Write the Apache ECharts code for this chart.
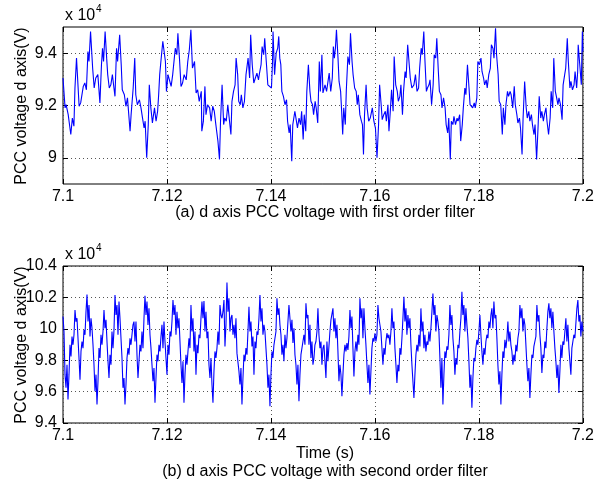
<!DOCTYPE html>
<html>
<head>
<meta charset="utf-8">
<script src="https://cdn.jsdelivr.net/npm/echarts@6/dist/echarts.min.js"></script>
<style>html,body{margin:0;padding:0;background:#fff}#c{width:597px;height:485px}</style>
</head>
<body>
<div id="c"></div>
<script>
// ---- data (voltage in units of 10^4 V, time in s) ----
const timeTicks = [7.1, 7.12, 7.14, 7.16, 7.18, 7.2];
const yTicksA = [9, 9.2, 9.4];
const yTicksB = [9.4, 9.6, 9.8, 10, 10.2, 10.4];

// (a) first order filter: [time, voltage]
const pccFirstOrder = [
[7.1000,9.305],[7.1004,9.191],[7.1006,9.203],[7.1010,9.165],[7.1015,9.089],[7.1018,9.152],[7.1021,9.121],[7.1023,9.267],[7.1026,9.381],[7.1031,9.197],
[7.1034,9.210],[7.1039,9.273],[7.1042,9.286],[7.1045,9.260],[7.1048,9.406],[7.1050,9.368],[7.1053,9.483],[7.1057,9.343],[7.1060,9.267],[7.1063,9.305],
[7.1067,9.318],[7.1069,9.324],[7.1071,9.210],[7.1074,9.356],[7.1076,9.419],[7.1078,9.368],[7.1081,9.483],[7.1084,9.381],[7.1086,9.318],[7.1089,9.267],
[7.1092,9.279],[7.1095,9.318],[7.1098,9.267],[7.1100,9.235],[7.1103,9.419],[7.1105,9.368],[7.1109,9.470],[7.1112,9.356],[7.1114,9.260],[7.1118,9.241],
[7.1121,9.197],[7.1124,9.229],[7.1126,9.235],[7.1129,9.102],[7.1131,9.165],[7.1135,9.267],[7.1138,9.381],[7.1140,9.241],[7.1143,9.203],[7.1147,9.222],
[7.1150,9.191],[7.1153,9.152],[7.1156,9.114],[7.1158,9.140],[7.1161,9.000],[7.1164,9.127],[7.1166,9.279],[7.1169,9.191],[7.1172,9.133],[7.1176,9.191],
[7.1179,9.140],[7.1182,9.178],[7.1184,9.241],[7.1186,9.318],[7.1188,9.362],[7.1192,9.445],[7.1194,9.451],[7.1197,9.368],[7.1199,9.254],[7.1202,9.318],
[7.1204,9.311],[7.1208,9.273],[7.1211,9.318],[7.1214,9.318],[7.1216,9.419],[7.1219,9.394],[7.1221,9.476],[7.1224,9.381],[7.1227,9.273],[7.1230,9.286],
[7.1233,9.318],[7.1237,9.298],[7.1240,9.368],[7.1243,9.413],[7.1246,9.489],[7.1249,9.343],[7.1253,9.368],[7.1256,9.248],[7.1259,9.260],[7.1262,9.216],
[7.1266,9.254],[7.1267,9.102],[7.1270,9.140],[7.1273,9.273],[7.1275,9.165],[7.1278,9.203],[7.1282,9.191],[7.1285,9.140],[7.1288,9.197],[7.1291,9.178],
[7.1294,9.127],[7.1298,9.064],[7.1301,8.994],[7.1303,9.140],[7.1306,9.279],[7.1309,9.127],[7.1311,9.152],[7.1314,9.140],[7.1317,9.203],[7.1320,9.210],
[7.1323,9.089],[7.1325,9.216],[7.1328,9.254],[7.1331,9.279],[7.1333,9.381],[7.1336,9.318],[7.1338,9.216],[7.1341,9.203],[7.1343,9.241],[7.1346,9.191],
[7.1349,9.216],[7.1352,9.318],[7.1356,9.381],[7.1359,9.305],[7.1361,9.470],[7.1364,9.356],[7.1367,9.286],[7.1370,9.305],[7.1373,9.324],[7.1376,9.298],
[7.1378,9.324],[7.1381,9.356],[7.1383,9.425],[7.1386,9.394],[7.1388,9.457],[7.1391,9.368],[7.1394,9.279],[7.1397,9.286],[7.1401,9.267],[7.1403,9.368],
[7.1404,9.483],[7.1407,9.318],[7.1410,9.400],[7.1413,9.419],[7.1415,9.464],[7.1417,9.381],[7.1419,9.356],[7.1421,9.254],[7.1424,9.235],[7.1427,9.203],
[7.1430,9.222],[7.1432,9.140],[7.1435,9.095],[7.1437,9.127],[7.1440,8.987],[7.1442,9.127],[7.1446,9.178],[7.1449,9.140],[7.1451,9.114],[7.1454,9.152],
[7.1457,9.127],[7.1459,9.178],[7.1462,9.070],[7.1464,9.165],[7.1467,9.102],[7.1469,9.254],[7.1472,9.356],[7.1475,9.254],[7.1477,9.216],[7.1480,9.203],
[7.1482,9.165],[7.1485,9.216],[7.1487,9.191],[7.1490,9.133],[7.1493,9.368],[7.1495,9.254],[7.1498,9.394],[7.1500,9.248],[7.1504,9.279],[7.1507,9.254],
[7.1512,9.324],[7.1515,9.254],[7.1518,9.305],[7.1520,9.425],[7.1522,9.381],[7.1524,9.419],[7.1526,9.489],[7.1529,9.381],[7.1531,9.292],[7.1534,9.254],
[7.1536,9.178],[7.1538,9.089],[7.1540,9.191],[7.1543,9.127],[7.1545,9.260],[7.1548,9.387],[7.1551,9.356],[7.1553,9.476],[7.1556,9.368],[7.1558,9.318],
[7.1561,9.267],[7.1564,9.254],[7.1566,9.203],[7.1568,9.241],[7.1571,9.165],[7.1574,9.140],[7.1576,9.127],[7.1578,9.013],[7.1580,9.165],[7.1583,9.279],
[7.1585,9.191],[7.1588,9.140],[7.1591,9.152],[7.1595,9.191],[7.1598,9.140],[7.1601,9.114],[7.1604,9.000],[7.1607,9.127],[7.1609,9.279],[7.1612,9.203],
[7.1614,9.146],[7.1617,9.165],[7.1620,9.178],[7.1622,9.140],[7.1625,9.203],[7.1627,9.102],[7.1630,9.191],[7.1632,9.260],[7.1635,9.178],[7.1637,9.387],
[7.1640,9.279],[7.1643,9.254],[7.1645,9.216],[7.1648,9.235],[7.1650,9.279],[7.1653,9.165],[7.1655,9.254],[7.1658,9.330],[7.1660,9.305],[7.1663,9.432],
[7.1666,9.356],[7.1668,9.305],[7.1671,9.267],[7.1675,9.279],[7.1678,9.318],[7.1681,9.254],[7.1684,9.267],[7.1686,9.343],[7.1689,9.419],[7.1691,9.394],
[7.1694,9.483],[7.1696,9.381],[7.1699,9.254],[7.1701,9.267],[7.1704,9.279],[7.1706,9.298],[7.1709,9.203],[7.1712,9.279],[7.1714,9.394],[7.1717,9.381],
[7.1719,9.457],[7.1722,9.330],[7.1724,9.254],[7.1727,9.241],[7.1729,9.191],[7.1732,9.229],[7.1735,9.191],[7.1737,9.127],[7.1740,9.095],[7.1742,9.152],
[7.1745,8.994],[7.1747,9.140],[7.1750,9.127],[7.1752,9.159],[7.1755,9.127],[7.1758,9.152],[7.1760,9.140],[7.1763,9.165],[7.1765,9.064],[7.1768,9.127],
[7.1770,9.191],[7.1773,9.267],[7.1775,9.241],[7.1778,9.356],[7.1781,9.267],[7.1783,9.203],[7.1786,9.210],[7.1788,9.191],[7.1791,9.210],[7.1793,9.191],
[7.1796,9.229],[7.1798,9.368],[7.1801,9.356],[7.1804,9.381],[7.1806,9.330],[7.1809,9.305],[7.1811,9.279],[7.1814,9.298],[7.1816,9.267],[7.1819,9.318],
[7.1822,9.343],[7.1824,9.432],[7.1827,9.419],[7.1829,9.381],[7.1832,9.495],[7.1834,9.394],[7.1837,9.318],[7.1839,9.216],[7.1842,9.203],[7.1845,9.089],
[7.1847,9.191],[7.1850,9.127],[7.1852,9.203],[7.1855,9.254],[7.1857,9.235],[7.1860,9.254],[7.1862,9.241],[7.1865,9.191],[7.1868,9.273],[7.1870,9.203],
[7.1873,9.165],[7.1875,9.133],[7.1878,9.152],[7.1880,9.114],[7.1883,9.013],[7.1885,9.152],[7.1888,9.292],[7.1891,9.191],[7.1893,9.152],[7.1896,9.178],
[7.1898,9.140],[7.1901,9.165],[7.1903,9.127],[7.1906,9.089],[7.1908,9.127],[7.1911,8.994],[7.1914,9.127],[7.1916,9.235],[7.1919,9.152],[7.1921,9.178],
[7.1924,9.140],[7.1926,9.165],[7.1929,9.191],[7.1931,9.140],[7.1934,9.089],[7.1937,9.152],[7.1939,9.254],[7.1942,9.191],[7.1944,9.381],[7.1947,9.254],
[7.1949,9.235],[7.1952,9.203],[7.1954,9.229],[7.1957,9.203],[7.1960,9.146],[7.1962,9.279],[7.1965,9.318],[7.1967,9.343],[7.1970,9.457],[7.1972,9.368],
[7.1975,9.267],[7.1977,9.292],[7.1980,9.260],[7.1983,9.279],[7.1985,9.330],[7.1988,9.267],[7.1990,9.330],[7.1991,9.432],[7.1994,9.356],[7.1997,9.279],
[7.1999,9.483],[7.2000,9.406]
];

// (b) second order filter: uniformly sampled voltages
const sampleStart = 7.1;
const sampleStep = 0.1 / 520;
const pccSecondOrder = [
10.078,9.983,9.708,9.624,9.771,9.550,9.708,9.898,9.824,9.951,9.898,9.962,10.120,10.046,10.067,9.940,9.814,9.676,9.856,9.919,
9.877,9.993,9.962,10.109,10.219,10.046,10.152,9.951,10.067,10.004,9.898,9.771,9.602,9.708,9.518,9.666,9.877,9.814,9.962,9.898,
9.983,10.120,10.004,10.057,9.919,9.793,9.687,9.835,9.771,9.983,9.877,9.993,10.215,10.088,10.152,9.962,10.173,10.067,9.940,9.814,
9.624,9.687,9.518,9.645,9.814,9.877,9.835,9.940,9.898,9.962,10.025,10.046,9.919,10.046,9.835,9.687,9.793,9.898,9.856,9.983,
9.877,10.067,10.211,10.088,10.173,10.025,10.130,9.962,9.877,9.771,9.666,9.750,9.529,9.687,9.835,9.793,9.898,9.856,9.951,10.025,
9.877,10.046,9.919,9.814,9.708,9.898,9.835,9.983,9.951,10.046,10.183,10.088,10.152,9.962,10.109,10.004,10.067,9.919,9.771,9.655,
9.793,9.529,9.708,9.835,9.771,9.856,9.940,9.877,10.152,9.983,10.067,9.856,9.983,9.708,9.898,9.845,9.962,9.940,10.067,10.173,
10.067,10.177,9.983,10.109,9.940,9.983,9.771,9.687,9.814,9.645,9.529,9.729,9.856,9.814,9.877,9.983,9.898,10.152,10.088,10.067,
10.109,10.183,9.888,10.025,10.295,10.109,10.194,9.983,10.067,10.088,9.962,10.025,9.940,10.067,9.845,9.856,9.729,9.645,9.750,9.518,
9.687,9.835,9.793,9.877,9.835,9.983,10.141,9.983,10.046,9.888,9.951,9.708,9.919,9.877,9.983,9.962,10.067,10.215,10.046,10.130,
9.962,10.025,9.983,9.877,9.771,9.624,9.708,9.507,9.708,9.856,9.814,9.898,9.940,9.983,10.194,10.088,10.130,10.025,9.962,9.835,
9.898,9.793,9.962,9.877,9.940,10.046,10.152,10.067,9.983,10.057,9.909,10.004,9.835,9.771,9.645,9.771,9.539,9.708,9.835,9.877,
9.919,9.962,9.898,10.162,10.067,10.088,9.898,10.025,9.814,9.919,9.771,9.814,9.898,9.919,9.983,10.130,9.962,9.877,9.919,9.771,
9.877,9.898,9.793,9.687,9.919,9.793,
9.888,9.983,10.057,10.067,10.130,9.983,10.067,9.940,10.025,9.856,9.666,9.771,9.708,9.571,9.708,9.835,9.898,9.856,9.909,9.866,
9.951,10.120,10.004,10.078,9.877,9.697,9.856,9.919,9.856,9.962,9.898,10.194,10.067,10.130,9.940,10.130,10.004,9.898,9.771,9.655,
9.771,9.581,9.729,9.877,9.940,9.919,9.972,9.919,9.962,10.152,10.067,10.078,9.983,9.877,9.771,9.877,9.835,9.919,9.972,9.940,
9.962,9.898,9.983,10.130,10.004,10.046,9.877,9.771,9.655,9.771,9.729,9.877,9.835,9.940,10.067,10.204,10.046,10.130,9.962,10.088,
10.004,10.067,9.898,9.771,9.666,9.560,9.708,9.835,9.898,9.856,9.962,9.888,10.130,9.983,10.046,9.877,9.962,9.856,9.919,9.898,
9.983,9.919,10.004,10.109,10.225,10.088,10.152,9.983,10.088,10.046,9.983,9.814,9.624,9.814,9.518,9.708,9.856,9.814,9.888,9.866,
9.962,10.152,10.025,10.088,9.940,9.856,9.708,9.814,9.771,9.898,9.877,9.983,10.067,10.236,10.088,10.152,9.983,10.130,10.025,9.940,
9.793,9.624,9.708,9.497,9.687,9.814,9.793,9.877,9.930,9.898,9.983,10.088,9.962,9.856,9.771,9.877,9.835,9.919,9.962,9.940,
10.046,10.004,10.088,10.130,10.004,10.173,10.067,10.088,9.940,9.771,9.645,9.729,9.518,9.708,9.856,9.814,9.930,9.877,9.940,10.046,
9.919,9.983,9.898,9.856,9.771,9.835,9.793,9.898,9.856,9.940,9.983,10.152,10.067,10.130,9.983,10.067,10.025,9.898,9.771,9.666,
9.750,9.560,9.708,9.835,9.814,9.888,9.877,9.951,10.152,10.046,10.088,9.962,9.877,9.719,9.835,9.814,9.919,9.877,10.004,10.109,
10.162,10.067,10.130,10.004,10.109,9.983,9.877,9.793,9.687,9.771,9.592,9.729,9.898,9.814,9.919,9.898,9.983,10.067,9.919,10.025,
9.877,9.793,9.708,9.877,9.919,9.962,9.940,10.035,10.130,10.183,10.046,10.088,9.951,10.046,9.983
];
const scaleLabel = 'x 10';
const scaleExp = '4';
const yName = 'PCC voltage d axis(V)';
const xName = 'Time (s)';
const captionA = '(a) d axis PCC voltage with first order filter';
const captionB = '(b) d axis PCC voltage with second order filter';

// ---- chart ----
const dataB = pccSecondOrder.map((v, i) => [sampleStart + i * sampleStep, v]);
const FONT = 'Liberation Sans, Arial, sans-serif';
const FS = 16;
const gridLine = { show: true, lineStyle: { color: '#555', type: [1, 3], width: 1 } };
const fmtX = v => String(+(+v).toFixed(2));
const fmtY = v => String(+(+v).toFixed(1));

function mainX(gi) {
  return {
    type: 'value', gridIndex: gi, min: 7.1, max: 7.2, interval: 0.02,
    axisLine: { show: false },
    axisTick: { show: true, inside: true, length: 5, lineStyle: { color: '#000' } },
    axisLabel: { color: '#000', fontSize: FS, fontFamily: FONT, margin: 5, formatter: fmtX },
    splitLine: gridLine
  };
}
function topX(gi) {
  return {
    type: 'value', gridIndex: gi, position: 'top', min: 7.1, max: 7.2, interval: 0.02,
    axisLine: { show: false },
    axisTick: { show: true, inside: true, length: 5, lineStyle: { color: '#000' } },
    axisLabel: { show: false }, splitLine: { show: false }
  };
}
function mainY(gi, min, max, ticks) {
  return {
    type: 'value', gridIndex: gi, min: min, max: max,
    axisLine: { show: false },
    axisTick: { show: true, inside: true, length: 5, lineStyle: { color: '#000' }, customValues: ticks },
    axisLabel: { color: '#000', fontSize: FS, fontFamily: FONT, margin: 6, formatter: fmtY, customValues: ticks },
    splitLine: gridLine
  };
}
function rightY(gi, min, max, ticks) {
  return {
    type: 'value', gridIndex: gi, position: 'right', min: min, max: max,
    axisLine: { show: false },
    axisTick: { show: true, inside: true, length: 5, lineStyle: { color: '#000' }, customValues: ticks },
    axisLabel: { show: false, customValues: ticks }, splitLine: { show: false }
  };
}

const chart = echarts.init(document.getElementById('c'), null, { renderer: 'canvas' });
const txt = (x, y, text, rot) => ({
  type: 'text', x: x, y: y, rotation: rot || 0,
  style: { text: text, fill: '#000', font: FS + 'px ' + FONT, textAlign: 'center', textVerticalAlign: 'middle' }
});
const scaleText = (y) => ({
  type: 'group', x: 65, y: y,
  children: [
    { type: 'text', x: 0, y: 0, style: { text: scaleLabel, fill: '#000', font: '16px ' + FONT, textAlign: 'left', textVerticalAlign: 'middle' } },
    { type: 'text', x: 31, y: -7, style: { text: scaleExp, fill: '#000', font: '10px ' + FONT, textAlign: 'left', textVerticalAlign: 'middle' } }
  ]
});

chart.setOption({
  animation: false,
  backgroundColor: '#fff',
  grid: [
    { left: 63, right: 13, top: 27, height: 157, show: true, borderColor: '#000', borderWidth: 1, backgroundColor: 'transparent' },
    { left: 63, right: 13, top: 266, height: 157, show: true, borderColor: '#000', borderWidth: 1, backgroundColor: 'transparent' }
  ],
  xAxis: [mainX(0), topX(0), mainX(1), topX(1)],
  yAxis: [
    mainY(0, 8.9, 9.5, yTicksA), rightY(0, 8.9, 9.5, yTicksA),
    mainY(1, 9.4, 10.4, yTicksB), rightY(1, 9.4, 10.4, yTicksB)
  ],
  series: [
    { type: 'line', xAxisIndex: 0, yAxisIndex: 0, data: pccFirstOrder, showSymbol: false, symbol: 'none',
      lineStyle: { color: '#0000ff', width: 1.1 }, silent: true },
    { type: 'line', xAxisIndex: 2, yAxisIndex: 2, data: dataB, showSymbol: false, symbol: 'none',
      lineStyle: { color: '#0000ff', width: 1.1 }, silent: true }
  ],
  graphic: [
    scaleText(16),
    scaleText(255),
    txt(22, 106, yName, Math.PI / 2),
    txt(22, 345, yName, Math.PI / 2),
    txt(325, 213, captionA),
    txt(325, 454, xName),
    txt(325, 472, captionB)
  ]
});
</script>
</body>
</html>
